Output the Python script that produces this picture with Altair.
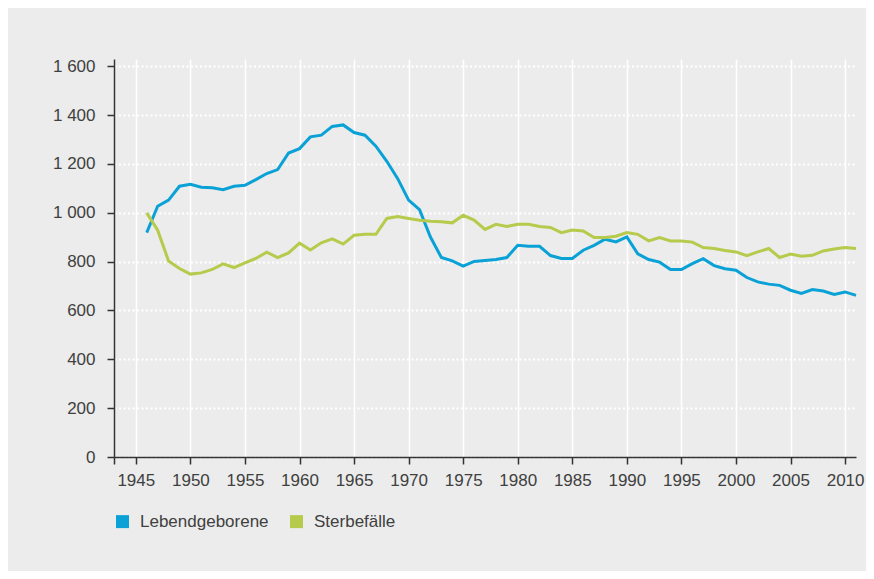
import altair as alt
import pandas as pd

years = list(range(1946, 2012))
lebendgeborene = [919, 1027, 1052, 1109, 1117, 1105, 1103, 1095, 1109, 1113,
                  1136, 1161, 1177, 1245, 1263, 1311, 1318, 1354, 1360, 1329,
                  1318, 1273, 1211, 1140, 1052, 1013, 901, 817, 803, 782,
                  801, 805, 809, 817, 867, 863, 863, 825, 813, 813,
                  847, 867, 892, 881, 901, 832, 809, 798, 768, 768,
                  792, 812, 784, 771, 765, 735, 717, 708, 703, 683,
                  670, 686, 680, 666, 676, 662]
sterbefaelle = [1000, 929, 803, 772, 749, 754, 768, 791, 776, 795,
                813, 839, 817, 836, 876, 848, 877, 893, 872, 908,
                912, 912, 977, 985, 977, 970, 966, 963, 959, 990,
                970, 932, 953, 944, 953, 953, 944, 940, 919, 930,
                926, 899, 899, 904, 919, 912, 885, 899, 885, 885,
                880, 858, 854, 846, 840, 825, 840, 854, 817, 831,
                822, 826, 844, 852, 858, 854]
series_names = ["Lebendgeborene", "Sterbefälle"]
series_colors = ["#0aa2d6", "#b6ca4c"]
x_ticks = [1943] + list(range(1945, 2011, 5))
y_ticks = [0, 200, 400, 600, 800, 1000, 1200, 1400, 1600]

df = pd.concat([
    pd.DataFrame({"Jahr": years, "Wert": lebendgeborene, "Reihe": series_names[0]}),
    pd.DataFrame({"Jahr": years, "Wert": sterbefaelle, "Reihe": series_names[1]}),
])

FONT = "Liberation Sans"
TXT = "#404040"
FS = 17

chart = alt.Chart(df).mark_line(strokeWidth=3).encode(
    x=alt.X("Jahr:Q",
            scale=alt.Scale(domain=[1943, 2011], nice=False, zero=False),
            axis=alt.Axis(values=x_ticks, format="d", title=None,
                          labelExpr="datum.value == 1943 ? '' : datum.label",
                          grid=True, gridColor="white", gridWidth=1.5,
                          domainColor="#333", domainWidth=1.5,
                          tickColor="#333", tickWidth=1.5, tickSize=7,
                          labelFont=FONT, labelFontSize=FS, labelColor=TXT,
                          labelPadding=8, labelFlush=False)),
    y=alt.Y("Wert:Q",
            scale=alt.Scale(domain=[0, 1630], nice=False),
            axis=alt.Axis(values=y_ticks, title=None,
                          labelExpr="datum.value >= 1000 ? replace(format(datum.value, ','), ',', ' ') : format(datum.value, 'd')",
                          grid=True, gridColor="white", gridWidth=2,
                          gridDash=[2, 2.5],
                          domainColor="#333", domainWidth=1.5,
                          tickColor="#333", tickWidth=1.5, tickSize=7,
                          labelFont=FONT, labelFontSize=FS, labelColor=TXT,
                          labelPadding=12)),
    color=alt.Color("Reihe:N",
                    scale=alt.Scale(domain=series_names, range=series_colors),
                    legend=alt.Legend(
                        title=None, orient="none", direction="horizontal",
                        legendX=0, legendY=454,
                        symbolType="square", symbolSize=42,
                        symbolStrokeWidth=6.5,
                        labelFont=FONT, labelFontSize=FS, labelColor=TXT,
                        labelOffset=9, columnPadding=11, padding=0)),
).properties(
    width=742, height=398,
    autosize=alt.AutoSizeParams(type="none"),
    padding={"left": 106, "top": 51, "right": 10, "bottom": 114},
    background="#ebeceb",
).configure_view(stroke=None)

chart.save("out.html", embed_options={"renderer": "svg", "actions": False})
